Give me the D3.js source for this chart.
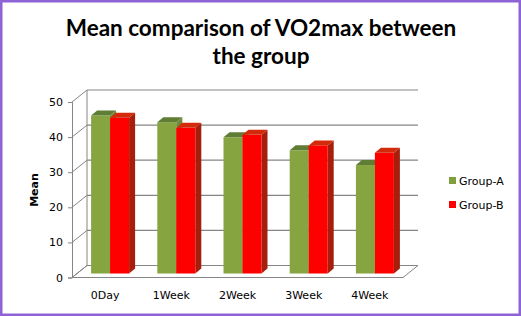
<!DOCTYPE html>
<html><head><meta charset="utf-8">
<script src="https://cdn.jsdelivr.net/npm/d3@7"></script>
<style>
html,body{margin:0;padding:0;background:#fff;}
svg{display:block;}
</style></head>
<body>
<script>
const categories = ["0Day","1Week","2Week","3Week","4Week"];
const seriesNames = ["Group-A","Group-B"];
const groupA = [45.0, 43.1, 38.8, 35.1, 30.9];
const groupB = [44.4, 41.5, 39.5, 36.5, 34.4];
const yTicks = [0,10,20,30,40,50];

const W = 521, H = 316;
const svg = d3.select("body").append("svg").attr("width", W).attr("height", H);

// border
svg.append("rect").attr("x",1.25).attr("y",1.25).attr("width",W-2.5).attr("height",H-2.5)
  .attr("fill","#fff").attr("stroke","#8e63d6").attr("stroke-width",2.5);

// title
const title = svg.append("text").attr("text-anchor","middle")
  .attr("font-family","Lato, 'Open Sans', sans-serif").attr("font-weight","bold")
  .attr("font-size",22.5).attr("fill","#000");
title.append("tspan").attr("x",261).attr("y",36).text("Mean comparison of VO2max between");
title.append("tspan").attr("x",261).attr("y",64).text("the group");

// geometry
const x0 = 72, x1 = 403;
const depth = {dx:15, dy:-12};
const barOff = {dx:5, dy:-4};
const barDepth = {dx:6, dy:-5};

const y = d3.scaleLinear().domain([0,50]).range([277.5,102]);
const x = d3.scaleBand().domain(categories).range([x0,x1]).paddingInner(0).paddingOuter(0);
const xs = d3.scaleBand().domain(seriesNames).range([0,38]);

const gridColor = "#858585";
const g = svg.append("g");

// back wall gridlines + wall side diagonals
yTicks.forEach(t => {
  const yy = y(t);
  g.append("line").attr("x1",x0+depth.dx).attr("x2",x1+depth.dx)
    .attr("y1",yy+depth.dy).attr("y2",yy+depth.dy)
    .attr("stroke",gridColor).attr("stroke-width",1.2);
  g.append("line").attr("x1",x0).attr("y1",yy).attr("x2",x0+depth.dx).attr("y2",yy+depth.dy)
    .attr("stroke",gridColor).attr("stroke-width",1);
});
// side wall back vertical
g.append("line").attr("x1",x0+depth.dx).attr("x2",x0+depth.dx)
  .attr("y1",y(0)+depth.dy).attr("y2",y(50)+depth.dy).attr("stroke",gridColor);
// floor
g.append("path").attr("d",`M${x0},${y(0)}L${x1},${y(0)}L${x1+depth.dx},${y(0)+depth.dy}L${x0+depth.dx},${y(0)+depth.dy}Z`)
  .attr("fill","none").attr("stroke",gridColor);

// y axis
const yAxis = d3.axisLeft(y).tickValues(yTicks).tickSize(4).tickPadding(5);
const ya = svg.append("g").attr("transform",`translate(${x0},0)`).call(yAxis);
ya.select(".domain").attr("stroke",gridColor);
ya.selectAll(".tick line").attr("stroke",gridColor);
ya.selectAll("text").attr("font-family","'DejaVu Sans', sans-serif").attr("font-size",11).attr("fill","#000");

// x axis labels
const xAxis = d3.axisBottom(x).tickSize(0).tickPadding(14);
const xa = svg.append("g").attr("transform",`translate(0,${y(0)})`).call(xAxis);
xa.select(".domain").remove();
xa.selectAll("text").attr("font-family","'DejaVu Sans', sans-serif").attr("font-size",11).attr("fill","#000");

// y title
svg.append("text").attr("transform","translate(38,190) rotate(-90)").attr("text-anchor","middle")
  .attr("font-family","'DejaVu Sans', sans-serif").attr("font-weight","bold").attr("font-size",11)
  .text("Mean");

// bars
const colors = {
  "Group-A": {front:"#86a43f", top:"#5f7d35", side:"#6d8a38"},
  "Group-B": {front:"#ff0000", top:"#d32a0c", side:"#a61e0c"}
};
const bars = [];
categories.forEach((c,i) => {
  bars.push({cat:c, s:"Group-A", v:groupA[i]});
  bars.push({cat:c, s:"Group-B", v:groupB[i]});
});
const bg = svg.append("g");
bars.forEach(d => {
  const bx = x(d.cat) + (x.bandwidth()-38)/2 + xs(d.s) + barOff.dx;
  const bw = xs.bandwidth();
  const yb = y(0) + barOff.dy;
  const yt = y(d.v) + barOff.dy;
  const c = colors[d.s];
  bg.append("path").attr("d",`M${bx+bw},${yt}L${bx+bw+barDepth.dx},${yt+barDepth.dy}L${bx+bw+barDepth.dx},${yb+barDepth.dy}L${bx+bw},${yb}Z`)
    .attr("fill",c.side);
  bg.append("rect").attr("x",bx).attr("y",yt).attr("width",bw).attr("height",yb-yt).attr("fill",c.front);
  bg.append("path").attr("d",`M${bx},${yt}L${bx+barDepth.dx},${yt+barDepth.dy}L${bx+bw+barDepth.dx},${yt+barDepth.dy}L${bx+bw},${yt}Z`)
    .attr("fill",c.top);
});

// legend
const leg = svg.append("g");
seriesNames.forEach((s,i) => {
  const ly = 181 + i*24;
  leg.append("rect").attr("x",449).attr("y",ly-4).attr("width",7).attr("height",7)
    .attr("fill", i===0 ? "#7f9f3c" : "#ff0000");
  leg.append("text").attr("x",459).attr("y",ly).attr("dy","0.35em")
    .attr("font-family","'DejaVu Sans', sans-serif").attr("font-size",11).text(s);
});
</script>
</body></html>
